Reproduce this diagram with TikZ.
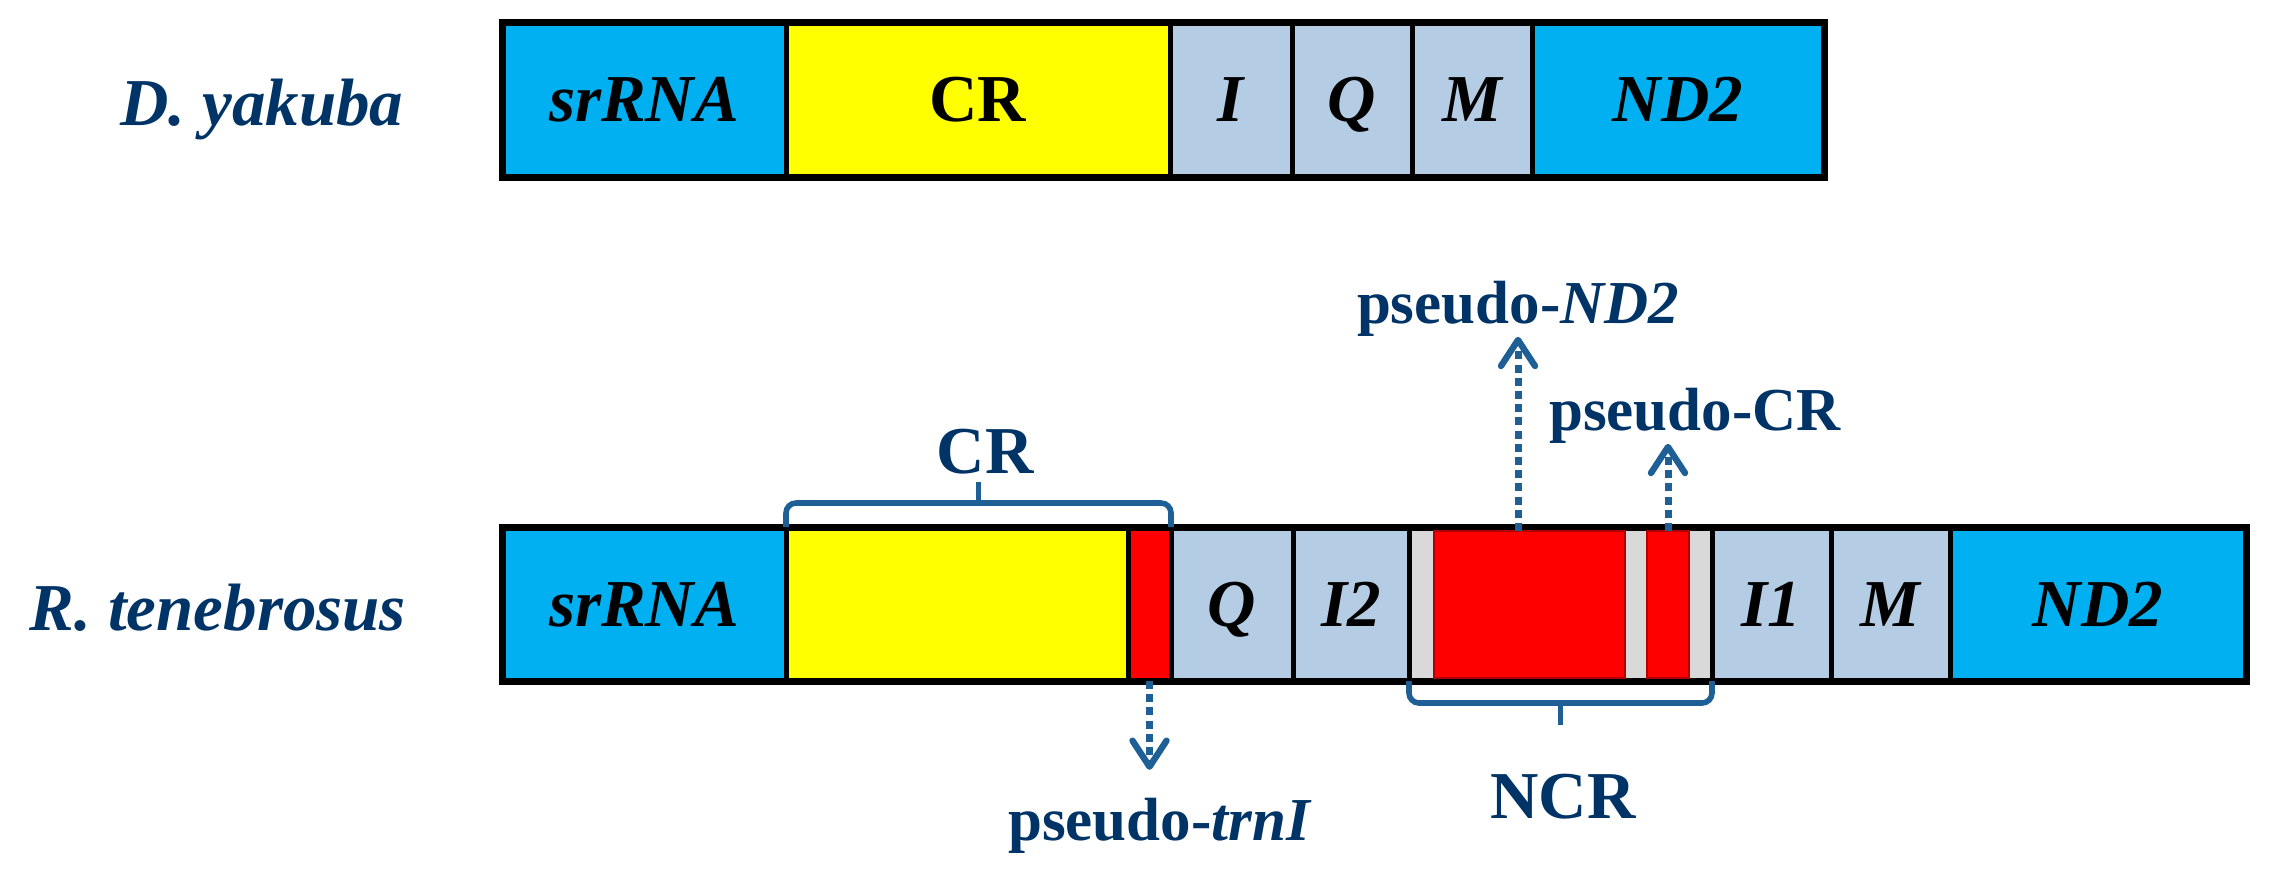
\documentclass[tikz,border=0pt]{standalone}
\usepackage{fontspec}
\setmainfont{Liberation Serif}
\usetikzlibrary{arrows.meta,fit,calc}
\definecolor{geneblue}{HTML}{00B0F0}
\definecolor{trnacol}{HTML}{B4CCE4}
\definecolor{cryel}{HTML}{FFFF00}
\definecolor{ncrgray}{HTML}{D9D9D9}
\definecolor{navytext}{RGB}{0,51,102}
\definecolor{arrblue}{RGB}{30,96,150}
\definecolor{darkredcol}{HTML}{B00000}
\begin{document}
\begin{tikzpicture}[x=0.25pt, y=-0.25pt,
  seg/.style={draw=black, line width=1.25pt, inner sep=0pt, outer sep=0pt, text=black,
     font=\fontsize{16.75}{18}\selectfont\bfseries\itshape, text height=11.1pt, text depth=0pt,
     anchor=center},
  topseg/.style={seg, minimum height=38.75pt},
  botseg/.style={seg, minimum height=38.5pt},
  outerbox/.style={draw=black, line width=1.75pt, inner sep=0pt, outer sep=0pt},
  redbox/.style={fill=red, draw=darkredcol, line width=0.6pt, inner sep=0pt, outer sep=0pt},
  species/.style={text=navytext, font=\fontsize{16.75}{18}\selectfont\bfseries\itshape, inner sep=0pt, anchor=base},
  lab/.style={text=navytext, font=\fontsize{16.75}{18}\selectfont\bfseries, inner sep=0pt, anchor=base},
  plab/.style={text=navytext, font=\fontsize{15.25}{17}\selectfont\bfseries, inner sep=0pt, anchor=base},
  dotarrow/.style={draw=arrblue, line width=1.75pt, dash pattern=on 2pt off 1.3pt,
     -{Straight Barb[length=6.5pt, width=8.5pt, line width=1.6pt, round]}},
  bracket/.style={draw=arrblue, line width=1.4pt, rounded corners=2.5pt}
]
\useasboundingbox (0,0) rectangle (2270,879);

% ---------- D. yakuba ----------
\node[species] (dy) at (262,125) {D. yakuba};
\node[topseg, fill=geneblue, minimum width=71pt]   (t1) at (644,99.5)  {srRNA};
\node[topseg, fill=cryel,    minimum width=96pt]   (t2) at (978,99.5)  {\upshape CR};
\node[topseg, fill=trnacol,  minimum width=30.5pt] (t3) at (1231,99.5) {I};
\node[topseg, fill=trnacol,  minimum width=30pt]   (t4) at (1352,99.5) {Q};
\node[topseg, fill=trnacol,  minimum width=30pt]   (t5) at (1472,99.5) {M};
\node[topseg, fill=geneblue, minimum width=73pt]   (t6) at (1678,99.5) {ND2};
\node[outerbox, fit={(502,22)(1824,177)}] (bar1) {};

% ---------- R. tenebrosus ----------
\node[species] (rt) at (218,630) {R. tenebrosus};
\node[botseg, fill=geneblue, minimum width=71pt]    (b1)   at (644,604)    {srRNA};
\node[botseg, fill=cryel,    minimum width=85.5pt]  (crY)  at (957,604)    {};
\node[botseg, fill=red,      minimum width=10.75pt] (redS) at (1149.5,604) {};
\node[botseg, fill=trnacol,  minimum width=30.5pt]  (b4)   at (1232,604)   {Q};
\node[botseg, fill=trnacol,  minimum width=29pt]    (b5)   at (1351,604)   {I2};
\node[botseg, fill=ncrgray,  minimum width=75.75pt] (ncr)  at (1560.5,604) {};
\node[botseg, fill=trnacol,  minimum width=29.75pt] (b7)   at (1771.5,604) {I1};
\node[botseg, fill=trnacol,  minimum width=29.75pt] (b8)   at (1890.5,604) {M};
\node[botseg, fill=geneblue, minimum width=74pt]    (b9)   at (2098,604)   {ND2};
\node[outerbox, fit={(502,527)(2246,681)}] (bar2) {};
\node[redbox, fit={(1434,531)(1625,678)}] (redA) {};
\node[redbox, fit={(1647,531)(1689,678)}] (redB) {};

% ---------- labels ----------
\node[lab] (CRlab) at (985,473) {CR};
\node[lab] (NCRlab) at (1563,818) {NCR};
\node[plab] (pND2) at (1518,323) {pseudo-\textit{ND2}};
\node[plab] (pCR) at (1695,430) {pseudo-CR};
\node[plab] (ptrnI) at (1160,840) {pseudo-\textit{trnI}};

% ---------- brackets ----------
\draw[bracket] (crY.north west) -- ++(0,-24) -| (redS.north east);
\coordinate (crmid) at ($(crY.north west)!0.5!(redS.north east)+(0,-24)$);
\draw[bracket] (crmid) -- ++(0,-21);
\draw[bracket] (ncr.south west) -- ++(0,22) -| (ncr.south east);
\coordinate (ncrmid) at ($(ncr.south west)!0.5!(ncr.south east)+(0,22)$);
\draw[bracket] (ncrmid) -- ++(0,22);

% ---------- arrows ----------
\draw[dotarrow] (redA.north -| pND2.south) -- (pND2.south);
\draw[dotarrow] (redB.north) -- (redB.north |- pCR.south);
\draw[dotarrow, shorten >=6.75pt] (redS.south) -- (redS.south |- ptrnI.north);
\end{tikzpicture}
\end{document}
